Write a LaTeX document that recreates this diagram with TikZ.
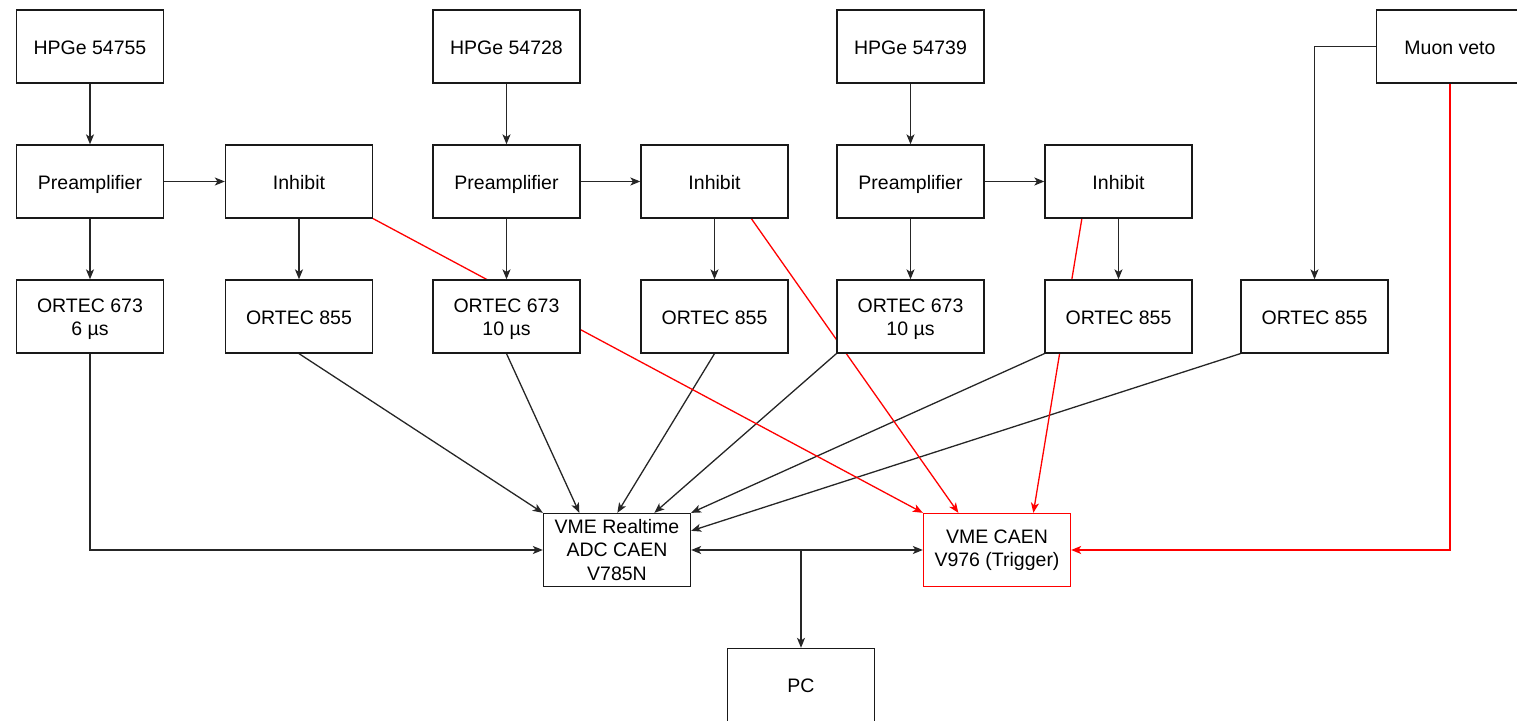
\documentclass[tikz,border=0pt]{standalone}
\usepackage{fontspec}
\setmainfont{Liberation Sans}
\usetikzlibrary{arrows.meta}
\pgfdeclarelayer{bg}
\pgfsetlayers{bg,main}
\begin{document}
\begin{tikzpicture}[x=0.5pt,y=-0.5pt,
  every node/.style={font=\fontsize{9.75pt}{11.65pt}\selectfont},
  box/.style={draw=black!90,fill=white,line width=0.65pt,rectangle,
    minimum width=73.5pt,minimum height=36.5pt,inner sep=0pt,align=center},
  one/.style={box,text height=8pt,text depth=0.2pt},
  redbox/.style={box,draw=red},
  tip/.tip={Stealth[length=5pt,width=4pt,inset=1.3pt]},
  conn/.style={line width=0.65pt,draw=black!85,-tip},
  rconn/.style={line width=0.65pt,draw=red,-tip}
]
\useasboundingbox (0,0) rectangle (1517,721);
\clip (0,0) rectangle (1517,721);

% row 1
\node[one] (h1) at (90,46.5) {HPGe 54755};
\node[one] (h2) at (506.5,46.5) {HPGe 54728};
\node[one] (h3) at (910.5,46.5) {HPGe 54739};
\node[one] (mv) at (1450,46.5) {Muon veto};
% row 2
\node[one] (p1) at (90,181.5) {Preamplifier};
\node[one] (i1) at (299,181.5) {Inhibit};
\node[one] (p2) at (506.5,181.5) {Preamplifier};
\node[one] (i2) at (714.5,181.5) {Inhibit};
\node[one] (p3) at (910.5,181.5) {Preamplifier};
\node[one] (i3) at (1118.5,181.5) {Inhibit};
% row 3
\node[box] (o1) at (90,316.5) {\rule{0pt}{9.7pt}ORTEC 673\\6 µs};
\node[one] (n1) at (299,316.5) {ORTEC 855};
\node[box] (o2) at (506.5,316.5) {\rule{0pt}{9.7pt}ORTEC 673\\10 µs};
\node[one] (n2) at (714.5,316.5) {ORTEC 855};
\node[box] (o3) at (910.5,316.5) {\rule{0pt}{9.7pt}ORTEC 673\\10 µs};
\node[one] (n3) at (1118.5,316.5) {ORTEC 855};
\node[one] (n4) at (1314.5,316.5) {ORTEC 855};
% bottom
\node[box] (adc) at (617,550) {VME Realtime\\ADC CAEN\\V785N};
\node[redbox] (trig) at (997,550) {VME CAEN\\V976 (Trigger)};
\node[one] (pc) at (801,685) {PC};

% target coordinates
\coordinate (a2) at ([xshift=18.25pt]adc.north west);
\coordinate (a3) at ([xshift=37.25pt]adc.north west);
\coordinate (a4) at ([xshift=55.75pt]adc.north west);
\coordinate (a6) at ([yshift=-9pt]adc.north east);
\coordinate (t2) at ([xshift=17.75pt]trig.north west);
\coordinate (t3) at ([xshift=55.25pt]trig.north west);
\coordinate (s2) at ([xshift=55.5pt]i2.south west);
\coordinate (s3) at ([xshift=18.75pt]i3.south west);

\begin{pgfonlayer}{bg}
% vertical chains
\draw[conn] (h1) -- (p1);
\draw[conn] (p1) -- (o1);
\draw[conn] (p1) -- (i1);
\draw[conn] (i1) -- (n1);
\draw[conn] (h2) -- (p2);
\draw[conn] (p2) -- (o2);
\draw[conn] (p2) -- (i2);
\draw[conn] (i2) -- (n2);
\draw[conn] (h3) -- (p3);
\draw[conn] (p3) -- (o3);
\draw[conn] (p3) -- (i3);
\draw[conn] (i3) -- (n3);
\draw[conn] (mv.west) -| (n4.north);
% to ADC
\draw[conn] (o1.south) |- (adc.west);
\draw[conn] (n1.south) -- (adc.north west);
\draw[conn] (o2.south) -- (a2);
\draw[conn] (n2.south) -- (a3);
\draw[conn] (o3.south west) -- (a4);
\draw[conn] (n3.south west) -- (adc.north east);
\draw[conn] (n4.south west) -- (a6);
% ADC <-> trigger, PC
\draw[conn,tip-tip] (adc.east) -- (trig.west);
\draw[conn] (pc.north |- adc.east) -- (pc.north);
% red trigger lines
\draw[rconn] (i1.south east) -- (trig.north west);
\draw[rconn] (s2) -- (t2);
\draw[rconn] (s3) -- (t3);
\draw[rconn] (mv.south) |- (trig.east);
\end{pgfonlayer}
\end{tikzpicture}
\end{document}
